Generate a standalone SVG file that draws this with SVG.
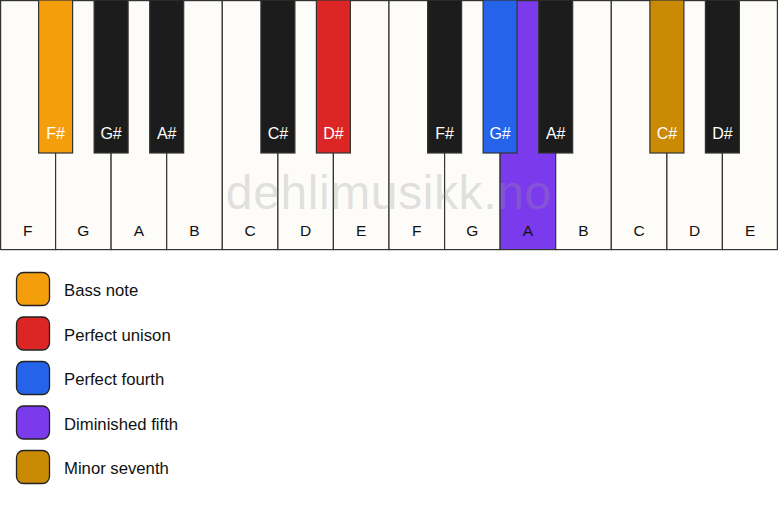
<svg xmlns="http://www.w3.org/2000/svg" width="778" height="506" viewBox="0 0 778 506">
<style>
.w{fill:#fdfcf9;stroke:#333;stroke-width:1.2}
.b{fill:#1c1c1c;stroke:#333;stroke-width:1.2}
.wl{font-family:"Liberation Sans",Arial,sans-serif;font-size:15.5px;fill:#111;text-anchor:middle}
.bl{font-family:"Liberation Sans",Arial,sans-serif;font-size:16px;fill:#fff;text-anchor:middle}
.lg{stroke:#222;stroke-width:1.3}
.lt{font-family:"Liberation Sans",Arial,sans-serif;font-size:16.7px;fill:#111}
</style>
<rect width="778" height="506" fill="#ffffff"/>
<g id="white-keys">
<rect class="w" x="0.6" y="0.6" width="55" height="249"/>
<rect class="w" x="55.6" y="0.6" width="55.5" height="249"/>
<rect class="w" x="111.1" y="0.6" width="55.6" height="249"/>
<rect class="w" x="166.7" y="0.6" width="55.6" height="249"/>
<rect class="w" x="222.3" y="0.6" width="55.6" height="249"/>
<rect class="w" x="277.9" y="0.6" width="55.5" height="249"/>
<rect class="w" x="333.4" y="0.6" width="55.6" height="249"/>
<rect class="w" x="389" y="0.6" width="55.6" height="249"/>
<rect class="w" x="444.6" y="0.6" width="55.5" height="249"/>
<rect class="w" x="500.1" y="0.6" width="55.6" height="249" style="fill:#7c3aed"/>
<rect class="w" x="555.7" y="0.6" width="55.6" height="249"/>
<rect class="w" x="611.3" y="0.6" width="55.6" height="249"/>
<rect class="w" x="666.9" y="0.6" width="55.5" height="249"/>
<rect class="w" x="722.4" y="0.6" width="55" height="249"/>
</g>
<g id="white-labels">
<text class="wl" x="27.8" y="236">F</text>
<text class="wl" x="83.4" y="236">G</text>
<text class="wl" x="138.9" y="236">A</text>
<text class="wl" x="194.5" y="236">B</text>
<text class="wl" x="250.1" y="236">C</text>
<text class="wl" x="305.6" y="236">D</text>
<text class="wl" x="361.2" y="236">E</text>
<text class="wl" x="416.8" y="236">F</text>
<text class="wl" x="472.4" y="236">G</text>
<text class="wl" x="527.9" y="236">A</text>
<text class="wl" x="583.5" y="236">B</text>
<text class="wl" x="639.1" y="236">C</text>
<text class="wl" x="694.6" y="236">D</text>
<text class="wl" x="750.2" y="236">E</text>
</g>
<text x="388.8" y="208.5" text-anchor="middle" font-family="'Liberation Sans',Arial,sans-serif" font-size="48" letter-spacing="0.6" fill="#999" fill-opacity="0.3">dehlimusikk.no</text>
<g id="black-keys">
<rect class="b" x="38.6" y="0" width="34" height="153" style="fill:#f59e0b"/>
<rect class="b" x="94.1" y="0" width="34" height="153"/>
<rect class="b" x="149.7" y="0" width="34" height="153"/>
<rect class="b" x="260.9" y="0" width="34" height="153"/>
<rect class="b" x="316.4" y="0" width="34" height="153" style="fill:#dc2626"/>
<rect class="b" x="427.6" y="0" width="34" height="153"/>
<rect class="b" x="483.1" y="0" width="34" height="153" style="fill:#2563eb"/>
<rect class="b" x="538.7" y="0" width="34" height="153"/>
<rect class="b" x="649.9" y="0" width="34" height="153" style="fill:#ca8a04"/>
<rect class="b" x="705.4" y="0" width="34" height="153"/>
</g>
<g id="black-labels">
<text class="bl" x="55.6" y="139">F#</text>
<text class="bl" x="111.1" y="139">G#</text>
<text class="bl" x="166.7" y="139">A#</text>
<text class="bl" x="277.9" y="139">C#</text>
<text class="bl" x="333.4" y="139">D#</text>
<text class="bl" x="444.6" y="139">F#</text>
<text class="bl" x="500.1" y="139">G#</text>
<text class="bl" x="555.7" y="139">A#</text>
<text class="bl" x="666.9" y="139">C#</text>
<text class="bl" x="722.4" y="139">D#</text>
</g>
<g id="legend-bass">
<rect class="lg" x="16.5" y="272.5" width="33" height="33" rx="7" fill="#f59e0b"/>
<text class="lt" x="64" y="296">Bass note</text>
</g>
<g id="legend-unison">
<rect class="lg" x="16.5" y="317" width="33" height="33" rx="7" fill="#dc2626"/>
<text class="lt" x="64" y="340.5">Perfect unison</text>
</g>
<g id="legend-fourth">
<rect class="lg" x="16.5" y="361.5" width="33" height="33" rx="7" fill="#2563eb"/>
<text class="lt" x="64" y="385">Perfect fourth</text>
</g>
<g id="legend-dimfifth">
<rect class="lg" x="16.5" y="406" width="33" height="33" rx="7" fill="#7c3aed"/>
<text class="lt" x="64" y="429.5">Diminished fifth</text>
</g>
<g id="legend-minseventh">
<rect class="lg" x="16.5" y="450.5" width="33" height="33" rx="7" fill="#ca8a04"/>
<text class="lt" x="64" y="474">Minor seventh</text>
</g>
</svg>
